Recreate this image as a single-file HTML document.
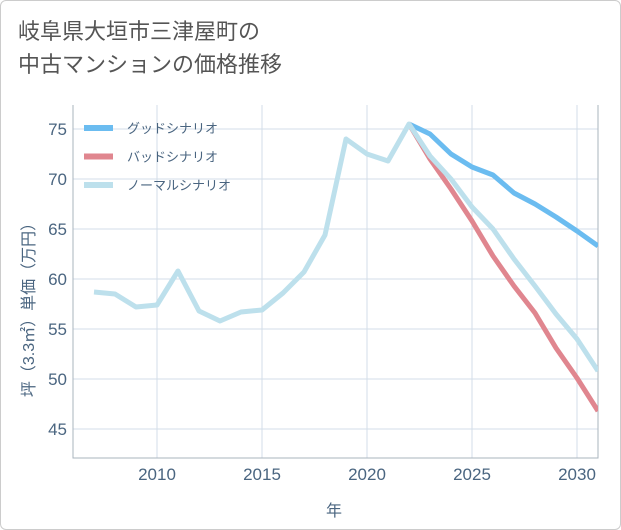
<!DOCTYPE html>
<html><head><meta charset="utf-8">
<style>
body{margin:0;background:#fff;}
#wrap{position:relative;width:619px;height:528px;border:1px solid #ccc;border-radius:6px;background:#fff;overflow:hidden;font-family:"Liberation Sans","Noto Sans CJK JP",sans-serif;}
#title{position:absolute;left:17px;top:14px;font-size:22px;line-height:33px;color:#555;}
svg{position:absolute;left:0;top:0;}
</style></head><body>
<div id="wrap">
<div id="title">岐阜県大垣市三津屋町の<br>中古マンションの価格推移</div>
<svg id="chart" width="621" height="530"></svg>
</div>
<script>
const years=[2007,2008,2009,2010,2011,2012,2013,2014,2015,2016,2017,2018,2019,2020,2021,2022,2023,2024,2025,2026,2027,2028,2029,2030,2031];
const normalVals=[58.7,58.5,57.2,57.4,60.8,56.8,55.8,56.7,56.9,58.6,60.7,64.4,74.0,72.5,71.8,75.5,72.3,70.0,67.2,65.0,62.0,59.3,56.5,54.0,50.8];
const goodYears=[2022,2023,2024,2025,2026,2027,2028,2029,2030,2031];
const goodVals=[75.5,74.5,72.5,71.2,70.4,68.6,67.5,66.2,64.8,63.3];
const badVals=[75.5,72.0,69.0,65.8,62.3,59.3,56.6,53.1,50.1,46.8];
const yTicks=[45,50,55,60,65,70,75];
const xTicks=[2010,2015,2020,2025,2030];
const legendLabels=["グッドシナリオ","バッドシナリオ","ノーマルシナリオ"];
const colors=["#6bbcf0","#e0868f","#bde0ec"];

const L=72,R=597,T=104,B=457;
const x=y=>156+(y-2010)*21;
const yv=v=>128+(75-v)*10;
const svg=document.getElementById('chart');
const NS='http://www.w3.org/2000/svg';
function mk(t,a){const e=document.createElementNS(NS,t);for(const k in a)e.setAttribute(k,a[k]);svg.appendChild(e);return e;}
const clip=mk('clipPath',{id:'cp'});
const cr=document.createElementNS(NS,'rect');cr.setAttribute('x',L);cr.setAttribute('y',T);cr.setAttribute('width',R-L);cr.setAttribute('height',B-T);clip.appendChild(cr);
for(const t of yTicks){
 const g=mk('line',{x1:L,x2:R,y1:yv(t),y2:yv(t),stroke:'#d3dde8','stroke-width':1});
 
 
 const tx=mk('text',{x:L-6,y:yv(t)+6,'text-anchor':'end','font-size':17,fill:'#4a6580'});
 tx.textContent=t;
 
 
}
for(const t of xTicks){
 const g=mk('line',{x1:x(t),x2:x(t),y1:T,y2:B,stroke:'#d3dde8','stroke-width':1});
 
 
 const tx=mk('text',{x:x(t),y:B+22,'text-anchor':'middle','font-size':17,fill:'#4a6580'});
 tx.textContent=t;
 
 
}
const ax=mk('polyline',{points:`${L},${T} ${L},${B} ${R},${B} ${R},${T}`,fill:'none',stroke:'#aab4be','stroke-width':1});


function line(xs,vs,c,name){
 const p=mk('polyline',{points:xs.map((yy,i)=>x(yy)+','+yv(vs[i])).join(' '),fill:'none',stroke:c,'stroke-width':5,'stroke-linejoin':'round','clip-path':'url(#cp)'});
 
 
}
line(goodYears,goodVals,colors[0],'good-scenario-line');
line(goodYears,badVals,colors[1],'bad-scenario-line');
line(years,normalVals,colors[2],'normal-scenario-line');
legendLabels.forEach((lb,i)=>{
 const ly=127+i*28.5;
 const s=mk('line',{x1:83,x2:112,y1:ly,y2:ly,stroke:colors[i],'stroke-width':6});
 
 
 const t=mk('text',{x:126,y:ly+5,'font-size':13,fill:'#4a6580'});
 t.textContent=lb;
 
 
});
const xt=mk('text',{x:333,y:515,'text-anchor':'middle','font-size':16,fill:'#4a6580'});
xt.textContent='年';


const yt=mk('text',{x:0,y:0,'text-anchor':'middle','font-size':16,fill:'#4a6580',transform:'translate(33,305) rotate(-90)'});
yt.textContent='坪（3.3㎡）単価（万円）';


</script>
</body></html>
